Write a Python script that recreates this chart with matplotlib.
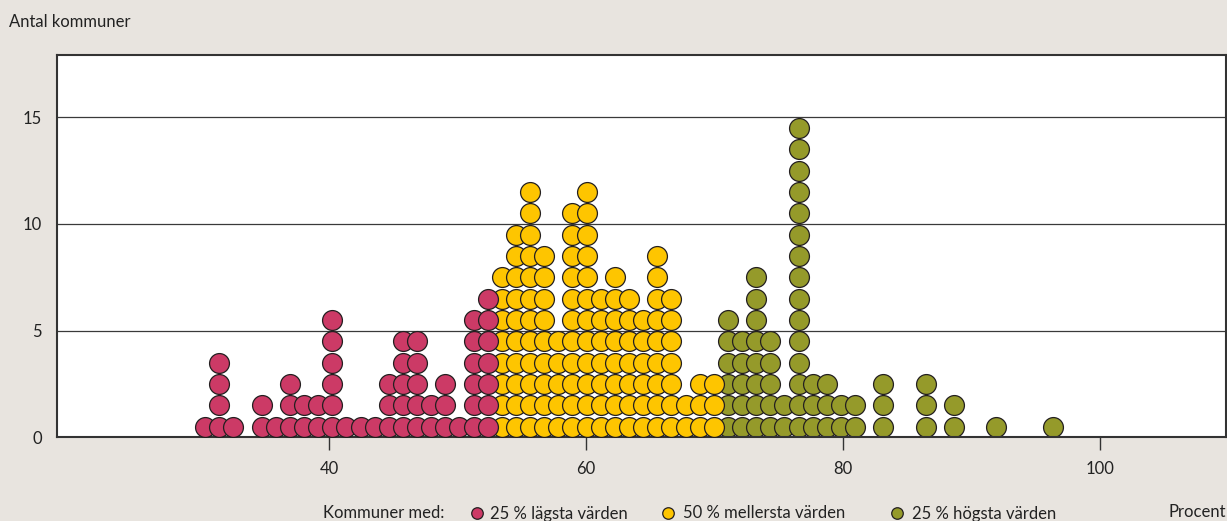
import matplotlib
matplotlib.use('Agg')
import matplotlib.pyplot as plt
from matplotlib.lines import Line2D

plt.rcParams['font.family'] = ['Lato', 'DejaVu Sans']

# Andel (procent) per stapel och antal kommuner i varje stapel
red_x = [30.35, 31.45, 32.55, 34.75, 35.85, 36.95, 38.05, 39.15, 40.25, 41.35,
         42.45, 43.55, 44.65, 45.75, 46.85, 47.95, 49.05, 50.15, 51.25, 52.35]
red_n = [1, 4, 1, 2, 1, 3, 2, 2, 6, 1, 1, 1, 3, 5, 5, 2, 3, 1, 6, 7]

yellow_x = [53.45, 54.55, 55.65, 56.75, 57.85, 58.95, 60.05, 61.15, 62.25, 63.35,
            64.45, 65.55, 66.65, 67.75, 68.85, 69.95]
yellow_n = [8, 10, 12, 9, 5, 11, 12, 7, 8, 7, 6, 9, 7, 2, 3, 3]

green_x = [71.05, 72.15, 73.25, 74.35, 75.45, 76.55, 77.65, 78.75, 79.85, 80.95,
           83.15, 86.45, 88.65, 91.95, 96.35]
green_n = [6, 5, 8, 5, 2, 15, 3, 3, 2, 2, 3, 3, 2, 1, 1]

groups = [
    ('25 % lägsta värden', '#cc3a66', red_x, red_n, 4),
    ('50 % mellersta värden', '#fec500', yellow_x, yellow_n, 3),
    ('25 % högsta värden', '#959a2a', green_x, green_n, 2),
]

bg = '#e8e4df'
edge = '#231f20'

fig = plt.figure(figsize=(12.27, 5.21), dpi=100, facecolor=bg)
ax = fig.add_axes([0.0465, 0.1607, 0.9525, 0.7337])
ax.set_facecolor('white')

for label, color, xs, ns, z in groups:
    px, py = [], []
    for x, n in zip(xs, ns):
        for k in range(n):
            px.append(x)
            py.append(k + 0.5)
    ax.plot(px, py, 'o', ms=14.3, mfc=color, mec=edge, mew=0.9,
            linestyle='none', zorder=z)

ax.set_xlim(18.83, 109.8)
ax.set_ylim(0, 17.92)

ax.set_xticks([40, 60, 80, 100])
ax.set_yticks([0, 5, 10, 15])
ax.tick_params(axis='x', direction='out', length=9.5, width=1, color='#333333',
               pad=7.5, labelsize=12, labelcolor='#222222')
ax.tick_params(axis='y', length=0, pad=11, labelsize=12, labelcolor='#222222')

for y in [5, 10, 15]:
    ax.axhline(y, color='#3a3a3a', lw=0.9, zorder=1)

for s in ax.spines.values():
    s.set_color('#333333')
    s.set_linewidth(1.5)

fig.text(9 / 1227, 1 - 27 / 521, 'Antal kommuner', fontsize=12,
         color='#222222', va='baseline', ha='left')

# Legend along the bottom
ly = 1 - 513 / 521
fig.text(323 / 1227, 1 - 518.5 / 521, 'Kommuner med:', fontsize=12,
         color='#222222', va='baseline', ha='left')
leg_pos = [(476.7, 489.5), (668.3, 683), (897, 912)]
for (mx, tx), (label, color, xs, ns, z) in zip(leg_pos, groups):
    fig.add_artist(Line2D([mx / 1227], [ly], marker='o', ms=8.3, mfc=color,
                          mec=edge, mew=0.9, transform=fig.transFigure))
    fig.text(tx / 1227, 1 - 518.5 / 521, label, fontsize=12, color='#222222',
             va='baseline', ha='left')

fig.text(1226 / 1227, 1 - 517 / 521, 'Procent', fontsize=12, color='#222222',
         va='baseline', ha='right')

fig.savefig('out.png', dpi=100, facecolor=bg)
